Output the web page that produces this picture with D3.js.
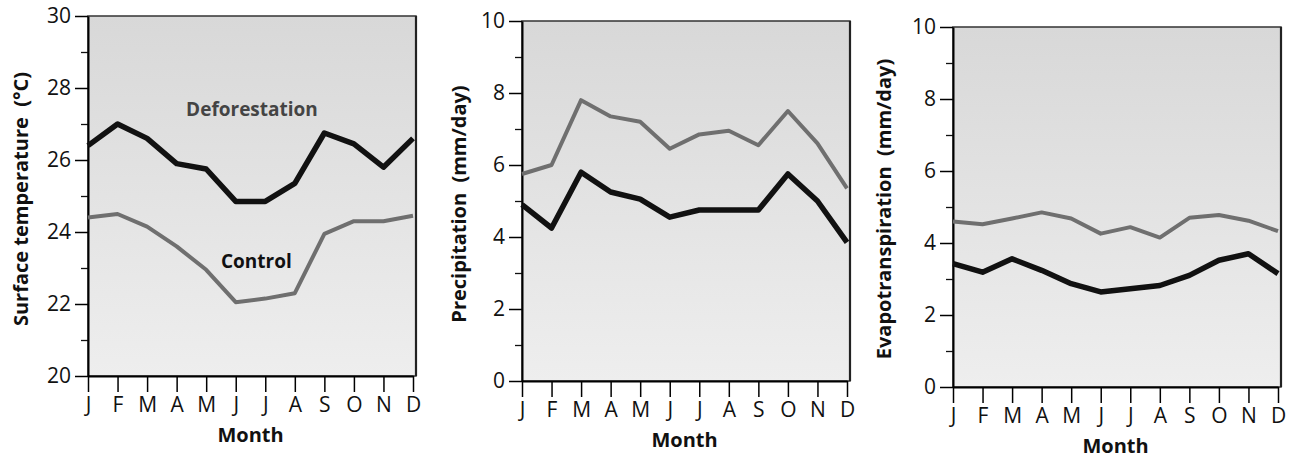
<!DOCTYPE html>
<html>
<head>
<meta charset="utf-8">
<script src="https://cdn.jsdelivr.net/npm/d3@7"></script>
<style>
  body { margin: 0; background: #fff; }
  text { font-family: "Open Sans", "Noto Sans", sans-serif; }
</style>
</head>
<body>
<div id="chart"></div>
<script>
// Month letters along the bottom of every panel
var months = ["J", "F", "M", "A", "M", "J", "J", "A", "S", "O", "N", "D"];

// Surface temperature (deg C)
var tempDeforest = [26.4, 27.0, 26.6, 25.9, 25.75, 24.85, 24.85, 25.35, 26.75, 26.45, 25.8, 26.6];
var tempControl  = [24.4, 24.5, 24.15, 23.6, 22.95, 22.05, 22.15, 22.3, 23.95, 24.3, 24.3, 24.45];
var tempTicks = [20, 22, 24, 26, 28, 30];

// Precipitation (mm/day)
var precipDeforest = [4.9, 4.25, 5.8, 5.25, 5.05, 4.55, 4.75, 4.75, 4.75, 5.75, 5.0, 3.85];
var precipControl  = [5.75, 6.0, 7.8, 7.35, 7.2, 6.45, 6.85, 6.95, 6.55, 7.5, 6.6, 5.35];

// Evapotranspiration (mm/day)
var evapDeforest = [3.43, 3.19, 3.56, 3.24, 2.87, 2.64, 2.73, 2.82, 3.1, 3.52, 3.7, 3.15];
var evapControl  = [4.6, 4.52, 4.68, 4.85, 4.68, 4.26, 4.44, 4.15, 4.7, 4.78, 4.62, 4.33];

var mmTicks = [0, 2, 4, 6, 8, 10];

var svgWidth = 1291;
var svgHeight = 458;

var svg = d3.select("#chart")
  .append("svg")
  .attr("width", svgWidth)
  .attr("height", svgHeight);

// background gradient for the plot areas (darker at the top, like the print)
var defs = svg.append("defs");
var grad = defs.append("linearGradient")
  .attr("id", "bg")
  .attr("x1", 0).attr("y1", 0).attr("x2", 0).attr("y2", 1);
grad.append("stop").attr("offset", "0%").attr("stop-color", "#d8d8d8");
grad.append("stop").attr("offset", "100%").attr("stop-color", "#eeeeee");

var panels = [
  {
    left: 88, top: 16, bottom: 376, titleX: 23, titleY: 199,
    domain: [20, 30], ticks: tempTicks,
    title: "Surface temperature  (\u00b0C)",
    deforest: tempDeforest, control: tempControl,
    notes: [
      { text: "Deforestation", m: 5.55, v: 27.35, color: "#444" },
      { text: "Control", m: 5.7, v: 23.15, color: "#111" }
    ]
  },
  {
    left: 522, top: 21, bottom: 381, titleX: 461, titleY: 204,
    domain: [0, 10], ticks: mmTicks,
    title: "Precipitation  (mm/day)",
    deforest: precipDeforest, control: precipControl,
    notes: []
  },
  {
    left: 953, top: 27, bottom: 387, titleX: 886, titleY: 209,
    domain: [0, 10], ticks: mmTicks,
    title: "Evapotranspiration  (mm/day)",
    deforest: evapDeforest, control: evapControl,
    notes: []
  }
];

panels.forEach(function(p) {
  var g = svg.append("g");
  var right = p.left + 328;

  var x = d3.scaleLinear()
    .domain([0, months.length - 1])
    .range([p.left, p.left + 325]);

  var y = d3.scaleLinear()
    .domain(p.domain)
    .range([p.bottom, p.top]);

  // plot area
  g.append("rect")
    .attr("x", p.left)
    .attr("y", p.top)
    .attr("width", right - p.left)
    .attr("height", p.bottom - p.top)
    .attr("fill", "url(#bg)")
    .attr("stroke", "#333")
    .attr("stroke-width", 1.5);
  g.append("line")
    .attr("x1", right).attr("x2", right)
    .attr("y1", p.top).attr("y2", p.bottom)
    .attr("stroke", "#222")
    .attr("stroke-width", 2.2);

  // minor ticks (every unit)
  var minor = d3.range(p.domain[0], p.domain[1] + 1).filter(function(d) { return p.ticks.indexOf(d) < 0; });
  g.append("g")
    .attr("transform", "translate(" + p.left + ",0)")
    .call(d3.axisLeft(y).tickValues(minor).tickSize(7).tickFormat(""))
    .call(function(a) { a.select(".domain").remove(); })
    .selectAll("line").attr("stroke", "#111").attr("stroke-width", 1.3);

  // major ticks + labels
  var yAxis = g.append("g")
    .attr("transform", "translate(" + p.left + ",0)")
    .call(d3.axisLeft(y).tickValues(p.ticks).tickSize(13).tickPadding(4).tickSizeOuter(0));
  yAxis.select(".domain").attr("stroke", "#000").attr("stroke-width", 2);
  yAxis.selectAll("line").attr("stroke", "#000").attr("stroke-width", 1.5);
  yAxis.selectAll("text")
    .attr("font-size", 21)
    .attr("fill", "#111")
    .attr("font-family", "Open Sans, sans-serif");

  // month axis
  var xAxis = g.append("g")
    .attr("transform", "translate(0," + p.bottom + ")")
    .call(d3.axisBottom(x)
      .tickValues(d3.range(months.length))
      .tickFormat(function(i) { return months[i]; })
      .tickSize(16).tickPadding(5).tickSizeOuter(0));
  xAxis.select(".domain").attr("stroke", "#000").attr("stroke-width", 2);
  xAxis.selectAll("line").attr("stroke", "#000").attr("stroke-width", 1.5);
  xAxis.selectAll("text")
    .attr("font-size", 21)
    .attr("fill", "#111")
    .attr("font-family", "Open Sans, sans-serif");

  var line = d3.line()
    .x(function(d, i) { return x(i); })
    .y(function(d) { return y(d); });

  g.append("path")
    .datum(p.control)
    .attr("d", line)
    .attr("fill", "none")
    .attr("stroke", "#6f6f6f")
    .attr("stroke-width", 4)
    .attr("stroke-linejoin", "round");

  g.append("path")
    .datum(p.deforest)
    .attr("d", line)
    .attr("fill", "none")
    .attr("stroke", "#111")
    .attr("stroke-width", 5.5)
    .attr("stroke-linejoin", "round");

  p.notes.forEach(function(n) {
    g.append("text")
      .attr("x", x(n.m))
      .attr("y", y(n.v))
      .attr("text-anchor", "middle")
      .attr("dominant-baseline", "middle")
      .attr("font-size", 19)
      .attr("font-weight", "bold")
      .attr("fill", n.color)
      .text(n.text);
  });

  // axis titles
  g.append("text")
    .attr("x", p.left + 325 / 2)
    .attr("y", p.bottom + 61)
    .attr("text-anchor", "middle")
    .attr("dominant-baseline", "middle")
    .attr("font-size", 20)
    .attr("font-weight", "bold")
    .attr("fill", "#111")
    .text("Month");

  g.append("text")
    .attr("transform", "translate(" + p.titleX + "," + p.titleY + ") rotate(-90)")
    .attr("text-anchor", "middle")
    .attr("dominant-baseline", "middle")
    .attr("font-size", 20)
    .attr("font-weight", "bold")
    .attr("fill", "#111")
    .style("white-space", "pre")
    .text(p.title);
});
</script>
</body>
</html>
